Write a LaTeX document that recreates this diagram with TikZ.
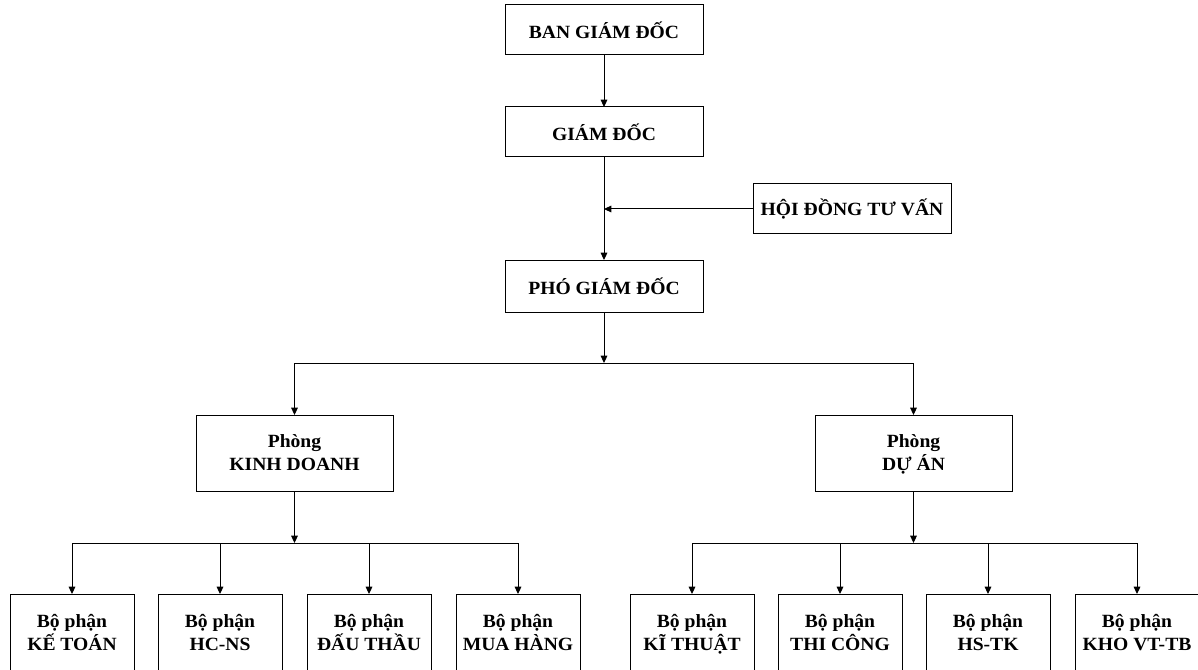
\documentclass[tikz,border=0pt]{standalone}
\usepackage{fontspec}
\setmainfont{Liberation Serif}[FakeStretch=1.05]
\usetikzlibrary{arrows.meta}

\tikzset{every picture/.style={line width=0.75pt}}
\tikzset{
  box/.style={draw, inner sep=0pt, outer sep=0pt, align=center,
    font=\fontsize{14}{17.5}\selectfont\bfseries,
    minimum width=148.5pt, minimum height=37.5pt},
  room/.style={box, text height=26.8pt, text depth=0pt,
    minimum width=147.75pt, minimum height=57pt},
  unit/.style={box, text height=26.8pt, text depth=0pt,
    minimum width=93pt, minimum height=58.5pt},
  arr/.style={-{Triangle[length=5.5pt,width=5pt]}}
}

\begin{document}
\begin{tikzpicture}[x=0.75pt,y=0.75pt,yscale=-1,xscale=1]
\useasboundingbox (0,0) rectangle (1198,670);
\clip (0,0) rectangle (1198,670);

% Text Node
\node [box] (bgd) at (604,30) {BAN GIÁM ĐỐC};
% Text Node
\node [box] (gd) at (604,132) {GIÁM ĐỐC};
% Text Node
\node [box] (hdtv) at (852,209) {HỘI ĐỒNG TƯ VẤN};
% Text Node
\node [box, minimum height=39pt] (pgd) at (604,286) {PHÓ GIÁM ĐỐC};
% Text Node
\node [room] (pkd) at (294.5,453) {Phòng\\KINH DOANH};
% Text Node
\node [room] (pda) at (913.5,453) {Phòng\\DỰ ÁN};

% Text Node
\node [unit] (kt) at (72,633) {Bộ phận\\KẾ TOÁN};
\node [unit] (hcns) at (220,633) {Bộ phận\\HC-NS};
\node [unit] (dt) at (369,633) {Bộ phận\\ĐẤU THẦU};
\node [unit] (mh) at (518,633) {Bộ phận\\MUA HÀNG};
\node [unit] (ktt) at (692,633) {Bộ phận\\KĨ THUẬT};
\node [unit] (tc) at (840,633) {Bộ phận\\THI CÔNG};
\node [unit] (hstk) at (988,633) {Bộ phận\\HS-TK};
\node [unit] (kho) at (1137,633) {Bộ phận\\KHO VT-TB};

\coordinate (j1) at (604,363);
\coordinate (j2) at (294.5,543);
\coordinate (j3) at (913.5,543);

%Straight Lines
\draw [arr] (bgd) -- (gd);
\draw [arr] (gd) -- (pgd);
\draw [arr] (hdtv.west) -- (hdtv.west -| gd.south);
%Straight Lines
\draw [arr] (pgd) -- (j1);
\draw [arr] (j1) -| (pkd);
\draw [arr] (j1) -| (pda);
%Straight Lines
\draw [arr] (pkd) -- (j2);
\foreach \n in {kt,hcns,dt,mh}
  \draw [arr] (j2) -| (\n);
\draw [arr] (pda) -- (j3);
\foreach \n in {ktt,tc,hstk,kho}
  \draw [arr] (j3) -| (\n);
\end{tikzpicture}
\end{document}
